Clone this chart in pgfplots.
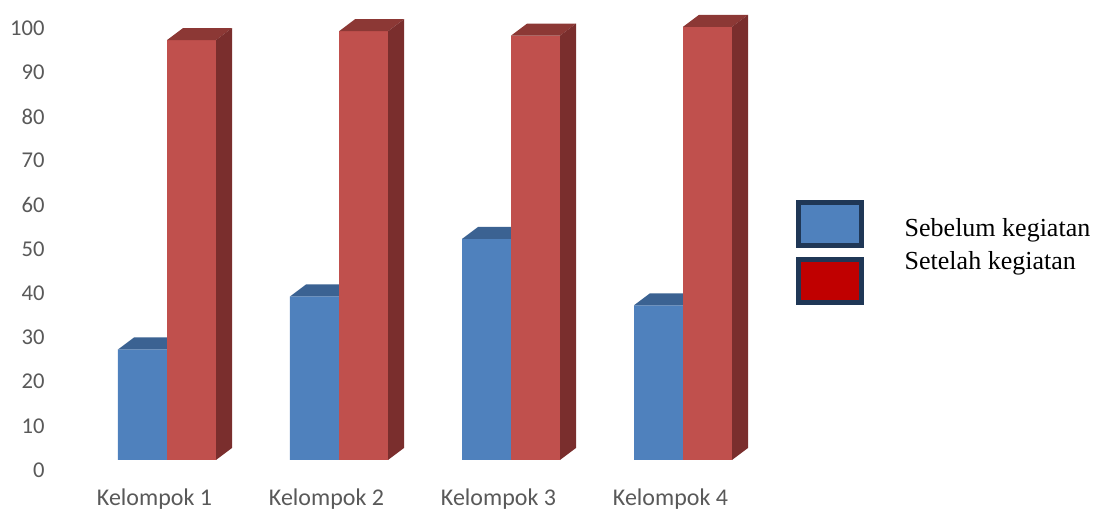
\documentclass[border=0pt]{standalone}
\usepackage{fontspec}
\setmainfont{Carlito}
\newfontfamily\tnr{Liberation Serif}
\usepackage{pgfplots}
\usepackage{pgfplotstable}
\pgfplotsset{compat=1.18}
\definecolor{bluefront}{HTML}{4F81BD}
\definecolor{bluetop}{HTML}{3B6292}
\definecolor{redfront}{HTML}{C0504D}
\definecolor{redtop}{HTML}{8C3835}
\definecolor{redside}{HTML}{7A2E2D}
\definecolor{legred}{HTML}{C00000}
\definecolor{legborder}{HTML}{1F3756}
\definecolor{ticklab}{HTML}{595959}

\pgfplotstableread{
x sebelum setelah
1 25 95
2 37 97
3 50 96
4 35 98
}\datatable

\def\bw{0.2849}
\def\dxx{0.0930}
\def\dyy{2.715}

\begin{document}
\begin{tikzpicture}
\begin{axis}[
  name=ax,
  scale only axis,
  width=548.5pt, height=255.5pt,
  xmin=0.029070, xmax=6.406977,
  ymin=-11.5385, ymax=104.0724,
  axis line style={draw=none},
  tick style={draw=none},
  major tick length=0pt,
  ytick={0,10,...,100},
  xtick={1,2,3,4},
  xticklabels={Kelompok 1,Kelompok 2,Kelompok 3,Kelompok 4},
  /pgf/number format/assume math mode=true,
  yticklabel style={anchor=east, inner sep=0pt, xshift=22.5pt, yshift=-5pt,
     text=ticklab, font=\fontsize{11.3}{13}\selectfont},
  xticklabel style={anchor=base, inner sep=0pt, xshift=-6.25pt, yshift=2.7pt,
     text=ticklab, font=\fontsize{12}{14}\selectfont},
]
% front faces of the blue bars
\addplot[ybar, bar width=\bw, bar shift=-0.14245, fill=bluefront, draw=none, mark=none]
  table[x=x, y=sebelum] {\datatable};
% top faces of the blue bars
\pgfplotsinvokeforeach{0,1,2,3}{%
  \pgfplotstablegetelem{#1}{x}\of\datatable \pgfmathsetmacro\cx{\pgfplotsretval}%
  \pgfplotstablegetelem{#1}{sebelum}\of\datatable \pgfmathsetmacro\vb{\pgfplotsretval}%
  \pgfmathsetmacro\xa{\cx-\bw}%
  \pgfmathsetmacro\xb{\cx+\dxx}%
  \pgfmathsetmacro\xc{\cx-\bw+\dxx}%
  \pgfmathsetmacro\vbt{\vb+\dyy}%
  \edef\tmp{\noexpand\addplot[fill=bluetop, draw=none, mark=none] coordinates {(\xa,\vb) (\cx,\vb) (\xb,\vbt) (\xc,\vbt)} -- cycle;}\tmp
}
% front faces of the red bars
\addplot[ybar, bar width=\bw, bar shift=0.14245, fill=redfront, draw=none, mark=none]
  table[x=x, y=setelah] {\datatable};
% top and side faces of the red bars
\pgfplotsinvokeforeach{0,1,2,3}{%
  \pgfplotstablegetelem{#1}{x}\of\datatable \pgfmathsetmacro\cx{\pgfplotsretval}%
  \pgfplotstablegetelem{#1}{setelah}\of\datatable \pgfmathsetmacro\vr{\pgfplotsretval}%
  \pgfmathsetmacro\xr{\cx+\bw}%
  \pgfmathsetmacro\xrb{\cx+\bw+\dxx}%
  \pgfmathsetmacro\xb{\cx+\dxx}%
  \pgfmathsetmacro\vrt{\vr+\dyy}%
  \edef\tmp{\noexpand\addplot[fill=redtop, draw=none, mark=none] coordinates {(\cx,\vr) (\xr,\vr) (\xrb,\vrt) (\xb,\vrt)} -- cycle;}\tmp
  \edef\tmp{\noexpand\addplot[fill=redside, draw=none, mark=none] coordinates {(\xr,0) (\xrb,\dyy) (\xrb,\vrt) (\xr,\vr)} -- cycle;}\tmp
}
\end{axis}
\begin{scope}[shift={(ax.north west)}, x=0.5pt, y=-0.5pt]
  \draw[line width=2.5pt, draw=legborder, fill=bluefront] (798.5,202.5) rectangle (861.5,245.5);
  \draw[line width=2.5pt, draw=legborder, fill=legred] (798.5,259.5) rectangle (861.5,302.5);
  \node[anchor=base west, inner sep=0pt, font=\tnr\fontsize{13}{15}\selectfont] at (904.3,237) {Sebelum kegiatan};
  \node[anchor=base west, inner sep=0pt, font=\tnr\fontsize{13}{15}\selectfont] at (904.3,269.3) {Setelah kegiatan};
\end{scope}
\pgfresetboundingbox
\useasboundingbox (ax.south west) rectangle (ax.north east);
\end{tikzpicture}
\end{document}
